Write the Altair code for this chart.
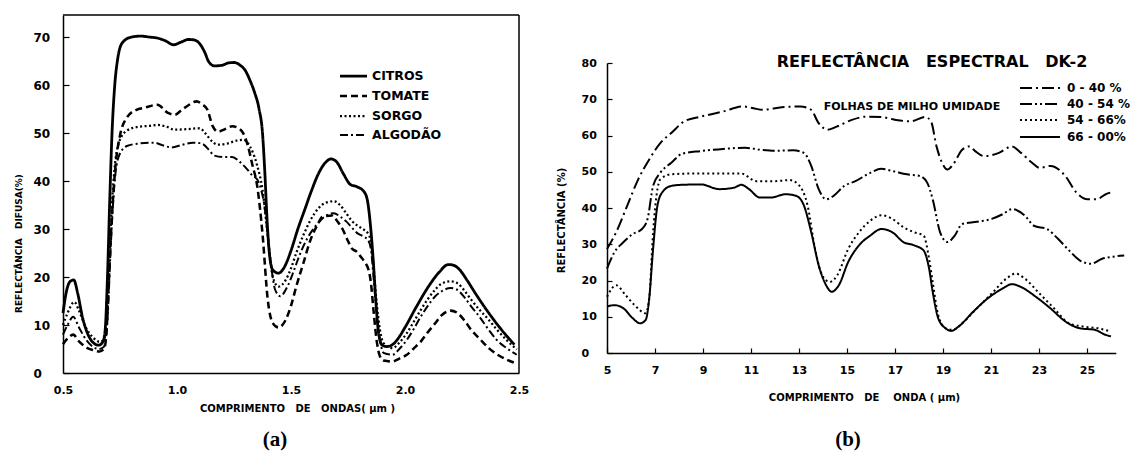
import altair as alt
import pandas as pd

# ---------------- Panel (a) data ----------------
a_series = ["CITROS", "TOMATE", "SORGO", "ALGODÃO"]

citros_x = [0.50, 0.515, 0.53, 0.547, 0.565, 0.586, 0.61, 0.633, 0.656, 0.675, 0.685, 0.695, 0.705, 0.715, 0.727,
            0.74, 0.76, 0.80, 0.84, 0.88, 0.914, 0.95, 0.984, 1.02, 1.05, 1.075, 1.10, 1.12, 1.14, 1.164, 1.195,
            1.225, 1.25, 1.275, 1.30, 1.32, 1.34, 1.36, 1.375, 1.385, 1.395, 1.405, 1.42, 1.445, 1.47, 1.50,
            1.53, 1.56, 1.59, 1.62, 1.65, 1.675, 1.70, 1.73, 1.76, 1.79, 1.82, 1.835, 1.848, 1.86, 1.872,
            1.885, 1.90, 1.92, 1.945, 1.97, 2.00, 2.05, 2.10, 2.15, 2.19, 2.21, 2.24, 2.27, 2.31, 2.36, 2.42, 2.48]
citros_y = [12.5, 17.0, 19.0, 19.4, 16.5, 11.5, 8.0, 6.3, 5.8, 6.5, 9.0, 20.0, 36.0, 50.0, 60.0,
            65.5, 68.8, 70.0, 70.2, 70.0, 69.8, 69.2, 68.4, 69.0, 69.5, 69.4, 68.6, 67.0, 64.8, 64.0, 64.1,
            64.6, 64.7, 64.2, 63.0, 61.0, 58.5, 55.0, 50.0, 42.0, 32.0, 25.0, 21.5, 20.8, 22.0, 25.5,
            30.0, 34.0, 38.0, 41.5, 43.8, 44.6, 44.0, 41.5, 39.3, 38.8, 37.8, 36.0, 31.0, 24.0, 15.0,
            8.0, 5.8, 5.5, 5.9, 7.2, 9.5, 13.8, 17.8, 21.0, 22.6, 22.5, 21.5, 19.5, 16.5, 13.0, 9.2, 5.9]

tomate_x = [0.50, 0.52, 0.545, 0.57, 0.60, 0.63, 0.66, 0.68, 0.69, 0.70, 0.715, 0.73, 0.75, 0.78, 0.82, 0.86,
            0.914, 0.96, 0.99, 1.02, 1.05, 1.086, 1.11, 1.133, 1.156, 1.18, 1.21, 1.242, 1.27, 1.29, 1.31,
            1.33, 1.352, 1.375, 1.398, 1.42, 1.445, 1.477, 1.50, 1.523, 1.555, 1.586, 1.615, 1.64, 1.68, 1.705,
            1.727, 1.75, 1.766, 1.79, 1.805, 1.825, 1.84, 1.85, 1.862, 1.875, 1.89, 1.906, 1.945, 1.975, 2.008,
            2.04, 2.07, 2.10, 2.133, 2.16, 2.20, 2.227, 2.26, 2.29, 2.33, 2.367, 2.40, 2.445, 2.49]
tomate_y = [6.0, 7.2, 8.0, 6.6, 5.4, 4.8, 4.5, 5.0, 8.0, 18.0, 33.0, 43.0, 49.5, 53.2, 54.8, 55.3,
            55.9, 54.2, 53.8, 54.8, 55.8, 56.6, 56.0, 54.9, 51.5, 50.3, 50.8, 51.4, 51.0, 50.0, 47.5,
            43.5, 38.9, 29.0, 15.3, 10.4, 9.5, 11.1, 14.0, 18.0, 23.0, 27.8, 30.8, 32.6, 32.8, 31.5,
            29.9, 27.5, 26.0, 25.2, 24.3, 23.0, 21.5, 19.0, 13.0, 7.0, 3.5, 2.6, 2.4, 3.0, 3.8,
            5.2, 6.6, 8.5, 10.4, 12.0, 13.0, 12.6, 11.0, 9.0, 7.0, 5.2, 4.0, 2.8, 2.0]

sorgo_x = [0.50, 0.52, 0.55, 0.57, 0.60, 0.63, 0.66, 0.68, 0.695, 0.71, 0.725, 0.745, 0.78, 0.83, 0.88,
           0.914, 0.95, 0.99, 1.04, 1.10, 1.12, 1.14, 1.16, 1.18, 1.22, 1.26, 1.29, 1.32, 1.35, 1.375, 1.40,
           1.42, 1.445, 1.477, 1.50, 1.523, 1.555, 1.586, 1.62, 1.648, 1.688, 1.715, 1.742, 1.765, 1.789,
           1.815, 1.836, 1.85, 1.862, 1.875, 1.89, 1.906, 1.945, 1.975, 2.008, 2.04, 2.07, 2.10, 2.133, 2.16,
           2.20, 2.23, 2.26, 2.29, 2.33, 2.367, 2.40, 2.445, 2.49]
sorgo_y = [10.0, 12.5, 14.8, 13.0, 9.5, 7.5, 6.5, 7.0, 14.0, 31.0, 42.0, 48.0, 50.5, 51.3, 51.5,
           51.7, 51.4, 50.7, 50.8, 51.0, 50.2, 49.0, 48.0, 47.6, 47.8, 48.4, 48.6, 47.2, 43.5, 38.2, 27.8,
           20.1, 18.0, 19.4, 21.8, 25.0, 28.8, 31.9, 34.3, 35.4, 35.8, 35.0, 33.3, 31.8, 30.8,
           30.0, 29.2, 27.5, 22.0, 15.0, 9.0, 6.2, 5.2, 6.3, 8.3, 10.8, 13.2, 15.4, 17.4, 18.6,
           19.1, 18.7, 17.2, 15.3, 13.0, 11.1, 9.2, 6.9, 4.9]

algodao_x = [0.50, 0.52, 0.545, 0.57, 0.60, 0.63, 0.66, 0.68, 0.695, 0.71, 0.725, 0.745, 0.78, 0.83, 0.898,
             0.94, 0.977, 1.02, 1.07, 1.10, 1.117, 1.14, 1.164, 1.20, 1.242, 1.275, 1.305, 1.33, 1.352, 1.37,
             1.383, 1.395, 1.406, 1.418, 1.43, 1.453, 1.484, 1.51, 1.53, 1.555, 1.586, 1.62, 1.648, 1.688,
             1.715, 1.742, 1.765, 1.789, 1.815, 1.836, 1.85, 1.862, 1.875, 1.89, 1.906, 1.945, 1.975, 2.008,
             2.04, 2.07, 2.10, 2.133, 2.16, 2.20, 2.227, 2.26, 2.29, 2.33, 2.367, 2.40, 2.445, 2.49]
algodao_y = [8.0, 10.0, 11.7, 9.5, 7.0, 5.5, 5.0, 5.5, 11.0, 27.0, 39.0, 45.2, 47.3, 47.8, 48.0,
             47.4, 47.0, 47.5, 48.0, 47.9, 47.6, 46.5, 45.3, 45.0, 45.0, 44.0, 42.6, 41.2, 40.3, 38.0,
             35.0, 30.0, 25.0, 20.5, 17.4, 16.0, 18.0, 21.0, 23.6, 26.5, 29.2, 31.3, 32.6, 33.3,
             32.6, 31.6, 30.4, 29.2, 28.5, 27.8, 26.0, 20.0, 13.0, 7.0, 4.2, 3.8, 5.0, 6.9,
             9.3, 11.8, 14.0, 16.0, 17.0, 17.7, 17.4, 15.8, 13.9, 11.5, 9.0, 7.0, 5.2, 3.8]

# ---------------- Panel (b) data ----------------
b_series = ["0 - 40 %", "40 - 54 %", "54 - 66%", "66 - 00%"]

b1_x = [5.0, 5.38, 5.84, 6.3, 6.76, 7.22, 7.68, 8.22, 8.91, 9.83, 10.67, 11.1, 11.5, 12.28, 13.05, 13.5,
        13.82, 14.2, 14.59, 15.2, 15.81, 16.43, 17.04, 17.65, 18.27, 18.5, 18.73, 18.96, 19.19, 19.42,
        19.8, 20.1, 20.34, 20.72, 21.33, 21.87, 22.25, 22.71, 23.02, 23.48, 24.1, 24.55, 25.02, 25.4,
        25.78, 26.0]
b1_y = [28.7, 33.3, 40.6, 47.9, 53.4, 57.9, 60.7, 63.9, 65.2, 66.6, 68.0, 67.5, 67.1, 67.8, 68.0, 67.1,
        63.4, 61.6, 62.5, 64.3, 65.2, 65.1, 64.3, 63.9, 65.1, 63.9, 57.0, 52.5, 50.6, 52.0,
        56.1, 57.0, 55.7, 54.3, 55.2, 57.0, 55.2, 52.5, 51.1, 51.6, 48.8, 44.3, 42.4, 42.4,
        43.8, 44.3]

b2_x = [5.0, 5.31, 5.69, 6.07, 6.46, 6.69, 6.92, 7.22, 7.68, 8.14, 8.91, 9.83, 10.75, 11.37, 11.98, 12.75,
        13.2, 13.51, 13.82, 14.13, 14.43, 14.89, 15.35, 15.97, 16.43, 16.89, 17.5, 18.04, 18.34, 18.57,
        18.88, 19.19, 19.49, 19.8, 20.41, 21.03, 21.49, 21.87, 22.41, 22.79, 23.33, 23.79, 24.25, 24.71,
        25.17, 25.63, 26.0, 26.55]
b2_y = [23.3, 27.8, 30.6, 32.8, 34.2, 37.0, 46.1, 49.7, 52.5, 55.0, 55.7, 56.3, 56.6, 56.1, 55.8, 55.9,
        55.2, 51.6, 45.2, 42.4, 43.3, 46.1, 47.4, 49.7, 50.8, 50.2, 49.3, 48.8, 47.0, 42.4,
        33.3, 30.6, 32.4, 35.6, 36.2, 37.0, 38.3, 39.7, 37.9, 35.1, 34.2, 31.5, 28.3, 25.5,
        24.6, 26.0, 26.5, 26.9]

b3_x = [5.0, 5.38, 5.77, 6.15, 6.61, 6.76, 6.92, 7.22, 7.68, 8.45, 9.52, 10.6, 11.21, 11.98, 12.6, 12.97,
        13.36, 13.67, 13.97, 14.28, 14.59, 15.05, 15.5, 15.97, 16.43, 16.89, 17.35, 17.8, 18.19, 18.42,
        18.57, 18.8, 19.11, 19.42, 19.8, 20.41, 21.03, 21.64, 22.02, 22.41, 23.02, 23.63, 24.25, 24.86,
        25.48, 26.0]
b3_y = [15.5, 18.7, 16.0, 13.2, 11.0, 15.0, 33.3, 47.9, 49.3, 49.5, 49.5, 49.5, 47.4, 47.4, 47.7, 46.5,
        40.6, 28.7, 21.4, 19.6, 21.4, 28.7, 33.3, 36.5, 38.0, 37.0, 34.7, 33.3, 32.4, 26.0,
        19.6, 10.5, 6.8, 6.4, 8.2, 12.3, 16.4, 20.5, 21.9, 20.5, 16.4, 12.3, 8.2, 7.3,
        6.8, 5.9]

b4_x = [5.0, 5.31, 5.69, 6.07, 6.38, 6.61, 6.76, 6.92, 7.1, 7.3, 7.68, 8.14, 8.91, 9.68, 10.29, 10.6,
        10.9, 11.37, 11.83, 12.44, 12.9, 13.21, 13.51, 13.82, 14.13, 14.36, 14.66, 15.05, 15.5, 15.97,
        16.43, 16.89, 17.35, 17.8, 18.19, 18.42, 18.57, 18.8, 19.11, 19.34, 19.65, 20.26, 20.87, 21.49,
        21.87, 22.25, 22.87, 23.48, 24.1, 24.71, 25.32, 25.78, 26.0]
b4_y = [12.8, 13.2, 12.3, 9.6, 8.2, 9.1, 15.1, 28.7, 40.6, 44.3, 46.1, 46.4, 46.5, 45.2, 45.6, 46.4,
        45.3, 42.9, 42.9, 43.8, 43.3, 40.6, 33.3, 24.2, 18.7, 16.9, 18.7, 25.1, 29.7, 32.4,
        34.2, 33.3, 30.6, 29.7, 28.3, 23.3, 16.9, 9.6, 6.8, 6.1, 7.3, 11.4, 15.1, 17.8,
        19.0, 18.2, 15.5, 12.3, 8.7, 6.8, 6.4, 5.0, 4.6]

# ---------------- tables ----------------
def table(names, xs, ys):
    rows = []
    for n, xx, yy in zip(names, xs, ys):
        for i, (a, b) in enumerate(zip(xx, yy)):
            rows.append({"serie": n, "x": a, "y": b, "i": i})
    return pd.DataFrame(rows)

dfA = table(a_series, [citros_x, tomate_x, sorgo_x, algodao_x], [citros_y, tomate_y, sorgo_y, algodao_y])
dfB = table(b_series, [b1_x, b2_x, b3_x, b4_x], [b1_y, b2_y, b3_y, b4_y])

# pixel geometry of the two panels (inside one group)
W, H = 1079, 358
A_xdom, A_ydom = [0.5, 2.5], [0, 74.6]
A_xrange, A_yrange = [0, 456], [358, 0]
B_xdom, B_ydom = [5, 26.2], [0, 80]
B_xrange, B_yrange = [544, 544 + 21.2 * 24], [338, 48]

def ax_px_A(px):
    return A_xdom[0] + (px - 63) / 228.0

def ay_px_A(py):
    return (373 - py) / 4.8

def ax_px_B(px):
    return 5 + (px - 607) / 24.0

def ay_px_B(py):
    return (353 - py) / 3.625

FONT = "DejaVu Sans"
NB = "\u00a0"
dashA = [[1, 0], [7, 4], [2, 2.5], [8, 3, 2, 3]]
widthA = [2.8, 2.0, 2.0, 2.0]
dashB = [[12, 4, 2, 4], [12, 3, 2, 3, 2, 3], [2, 3], [1, 0]]
widthB = [2.0, 2.0, 2.0, 2.4]

xA = lambda f: alt.X(f, scale=alt.Scale(domain=A_xdom, range=A_xrange, nice=False, zero=False),
                     axis=alt.Axis(orient="bottom", values=[0.5, 1.0, 1.5, 2.0, 2.5], format=".1f",
                                   ticks=False, labelPadding=11, labelFontSize=11, labelFlush=False,
                                   title="COMPRIMENTO" + NB * 3 + "DE" + NB * 3 + "ONDAS(" + NB + "µm" + NB + ")",
                                   titleX=234, titleY=35, titleBaseline="middle", titleFontSize=10))
yA = lambda f: alt.Y(f, scale=alt.Scale(domain=A_ydom, range=A_yrange, nice=False, zero=False),
                     axis=alt.Axis(orient="left", values=[0, 10, 20, 30, 40, 50, 60, 70],
                                   tickSize={"expr": "-6"}, labelPadding=36, labelAlign="left",
                                   labelFontSize=12,
                                   title="REFLECTÂNCIA" + NB * 3 + "DIFUSA(%)", titleX=-40, titleY=228,
                                   titleFontSize=9))
sdA = alt.StrokeDash("serie:N", scale=alt.Scale(domain=a_series, range=dashA), legend=None)
swA = alt.StrokeWidth("serie:N", scale=alt.Scale(domain=a_series, range=widthA), legend=None)

linesA = alt.Chart(dfA).mark_line(interpolate="monotone", color="black").encode(
    x=xA("x:Q"), y=yA("y:Q"), strokeDash=sdA, strokeWidth=swA, order="i:Q")

legA = pd.DataFrame({"serie": a_series,
                     "y": [ay_px_A(p) for p in [76, 96, 116, 135]]})
legA["x"] = ax_px_A(340)
legA["x2"] = ax_px_A(367)
legA["xt"] = ax_px_A(372)

legRuleA = alt.Chart(legA).mark_rule(color="black").encode(
    x=alt.X("x:Q"), x2="x2:Q", y=alt.Y("y:Q"), strokeDash=sdA, strokeWidth=swA)
legTextA = alt.Chart(legA).mark_text(align="left", baseline="middle", font=FONT, fontWeight="bold",
                                     fontSize=12.5, color="black").encode(
    x=alt.X("xt:Q"), y=alt.Y("y:Q"), text="serie:N")

one = pd.DataFrame({"k": [0]})
frameTop = alt.Chart(one).mark_rule(color="black", strokeWidth=1.5).encode(
    x=alt.datum(A_xdom[0]), x2=alt.datum(A_xdom[1]), y=alt.datum(A_ydom[1]))
frameRight = alt.Chart(one).mark_rule(color="black", strokeWidth=1.5).encode(
    x=alt.datum(A_xdom[1]), y=alt.datum(A_ydom[0]), y2=alt.datum(A_ydom[1]))
labelA = alt.Chart(one).mark_text(font="Liberation Serif", fontWeight="bold", fontSize=21,
                                  color="black", baseline="middle").encode(
    x=alt.datum(ax_px_A(275)), y=alt.datum(ay_px_A(440)), text=alt.value("(a)"))

layerA = alt.layer(linesA, legRuleA, legTextA, frameTop, frameRight, labelA)

# ---------------- panel (b) ----------------
xB = lambda f: alt.X(f, scale=alt.Scale(domain=B_xdom, range=B_xrange, nice=False, zero=False),
                     axis=alt.Axis(orient="bottom", offset=-20,
                                   values=[5, 7, 9, 11, 13, 15, 17, 19, 21, 23, 25],
                                   tickSize={"expr": "-5"}, labelPadding=16, labelFontSize=11,
                                   labelFlush=False,
                                   title="COMPRIMENTO" + NB * 3 + "DE" + NB * 4 + "ONDA" + NB + "(" + NB + "µm)",
                                   titleX=801, titleY=44, titleBaseline="middle", titleFontSize=10))
yB = lambda f: alt.Y(f, scale=alt.Scale(domain=B_ydom, range=B_yrange, nice=False, zero=False),
                     axis=alt.Axis(orient="left", offset=-544, values=[0, 10, 20, 30, 40, 50, 60, 70, 80],
                                   tickSize={"expr": "-5"}, labelPadding=31, labelAlign="left",
                                   labelFontSize=11,
                                   title="REFLECTÂNCIA (%)", titleX=-41, titleY=205, titleFontSize=10))
sdB = alt.StrokeDash("serie:N", scale=alt.Scale(domain=b_series, range=dashB), legend=None)
swB = alt.StrokeWidth("serie:N", scale=alt.Scale(domain=b_series, range=widthB), legend=None)

linesB = alt.Chart(dfB).mark_line(interpolate="monotone", color="black").encode(
    x=xB("x:Q"), y=yB("y:Q"), strokeDash=sdB, strokeWidth=swB, order="i:Q")

legB = pd.DataFrame({"serie": b_series,
                     "y": [ay_px_B(p) for p in [88, 104, 120, 137]]})
legB["x"] = ax_px_B(1020)
legB["x2"] = ax_px_B(1060)
legB["xt"] = ax_px_B(1067)

legRuleB = alt.Chart(legB).mark_rule(color="black").encode(
    x=alt.X("x:Q"), x2="x2:Q", y=alt.Y("y:Q"), strokeDash=sdB, strokeWidth=swB)
legTextB = alt.Chart(legB).mark_text(align="left", baseline="middle", font=FONT, fontWeight="bold",
                                     fontSize=12, color="black").encode(
    x=alt.X("xt:Q"), y=alt.Y("y:Q"), text="serie:N")

titleB = alt.Chart(one).mark_text(font=FONT, fontWeight="bold", fontSize=16, color="black",
                                  baseline="middle").encode(
    x=alt.datum(ax_px_B(932)), y=alt.datum(ay_px_B(62)),
    text=alt.value("REFLECTÂNCIA" + NB * 3 + "ESPECTRAL" + NB * 3 + "DK-2"))
noteB = alt.Chart(one).mark_text(font=FONT, fontWeight="bold", fontSize=11, color="black",
                                 baseline="middle").encode(
    x=alt.datum(ax_px_B(912)), y=alt.datum(ay_px_B(107)), text=alt.value("FOLHAS DE MILHO UMIDADE"))
labelB = alt.Chart(one).mark_text(font="Liberation Serif", fontWeight="bold", fontSize=21,
                                  color="black", baseline="middle").encode(
    x=alt.datum(ax_px_B(848)), y=alt.datum(ay_px_B(440)), text=alt.value("(b)"))

layerB = alt.layer(linesB, legRuleB, legTextB, titleB, noteB, labelB)

chart = alt.layer(layerA, layerB).resolve_scale(
    x="independent", y="independent", strokeDash="independent", strokeWidth="independent"
).properties(
    width=W, height=H,
    autosize=alt.AutoSizeParams(type="none"),
    padding={"left": 63, "top": 15, "right": 0, "bottom": 88},
    background="white",
).configure_view(stroke=None).configure_axis(
    grid=False, domainColor="black", domainWidth=1.5, tickColor="black", tickWidth=1.2,
    labelColor="black", titleColor="black", labelFont=FONT, labelFontWeight="bold",
    titleFont=FONT, titleFontWeight="bold"
)

chart.save("out.html", embed_options={"renderer": "svg", "actions": False})
